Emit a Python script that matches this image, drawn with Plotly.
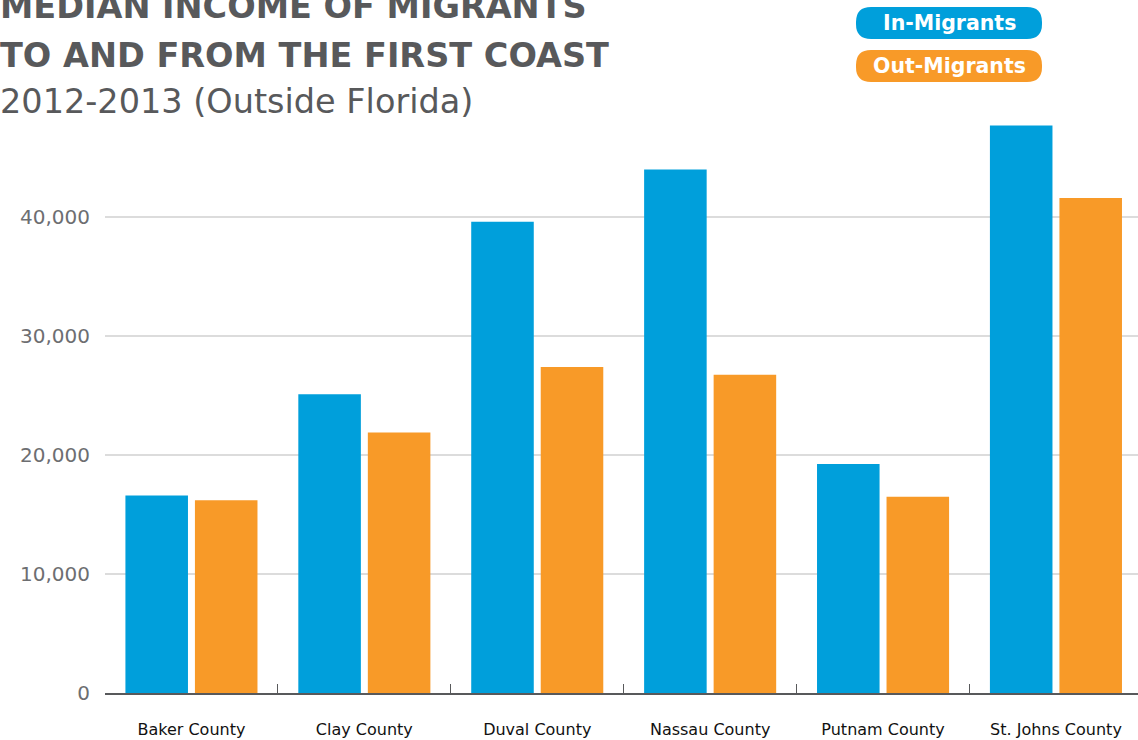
import plotly.graph_objects as go

# Median income of migrants, 2012-2013, moves to/from outside Florida
counties = ["Baker County", "Clay County", "Duval County",
            "Nassau County", "Putnam County", "St. Johns County"]
in_migrants = [16600, 25100, 39600, 44000, 19250, 47700]
out_migrants = [16200, 21900, 27400, 26750, 16500, 41600]
y_ticks = [0, 10000, 20000, 30000, 40000]
y_tick_labels = ["0", "10,000", "20,000", "30,000", "40,000"]

BLUE = "#009FDB"
ORANGE = "#F89A28"
TITLE_GREY = "#58595B"
TICK_GREY = "#6D6E71"

W, H = 1138, 740
ML, MR, MT, MB = 105, 0, 110, 47
PW, PH = W - ML - MR, H - MT - MB
CAT_W = 172.9  # pixel width of one category slot


def px_x(px):
    return (px - ML) / PW


def px_y(py):
    return (H - MB - py) / PH


def pill_path(x0, y0, x1, y1, r):
    # rounded rectangle in pixel space, converted to paper coordinates
    pts = [
        ("M", [(x0 + r, y0)]),
        ("L", [(x1 - r, y0)]),
        ("Q", [(x1, y0), (x1, y0 + r)]),
        ("L", [(x1, y1 - r)]),
        ("Q", [(x1, y1), (x1 - r, y1)]),
        ("L", [(x0 + r, y1)]),
        ("Q", [(x0, y1), (x0, y1 - r)]),
        ("L", [(x0, y0 + r)]),
        ("Q", [(x0, y0), (x0 + r, y0)]),
    ]
    out = []
    for cmd, coords in pts:
        out.append(cmd + " " + " ".join(f"{px_x(a):.5f},{px_y(b):.5f}" for a, b in coords))
    return " ".join(out) + " Z"


fig = go.Figure()
fig.add_trace(go.Bar(x=counties, y=in_migrants, name="In-Migrants",
                     marker=dict(color=BLUE, line=dict(width=0))))
fig.add_trace(go.Bar(x=counties, y=out_migrants, name="Out-Migrants",
                     marker=dict(color=ORANGE, line=dict(width=0))))

title_font = "DejaVu Sans"
annotations = [
    dict(text="<b>MEDIAN INCOME OF MIGRANTS</b>", x=px_x(-2), y=px_y(6),
         font=dict(size=33.5, color=TITLE_GREY, family=title_font)),
    dict(text="<b>TO AND FROM THE FIRST COAST</b>", x=px_x(-2), y=px_y(55),
         font=dict(size=33.5, color=TITLE_GREY, family=title_font)),
    dict(text="2012-2013 (Outside Florida)", x=px_x(-2), y=px_y(101),
         font=dict(size=33.5, color=TITLE_GREY, family=title_font)),
]
for a in annotations:
    a.update(xref="paper", yref="paper", xanchor="left", yanchor="middle",
             showarrow=False)

shapes = []
legend_items = [("In-Migrants", BLUE, 7, 39), ("Out-Migrants", ORANGE, 50, 82)]
for label, color, top, bottom in legend_items:
    shapes.append(dict(type="path", xref="paper", yref="paper",
                       path=pill_path(856, top, 1042, bottom, 15),
                       fillcolor=color, line=dict(width=0), layer="above"))
    annotations.append(dict(text=f"<b>{label}</b>", xref="paper", yref="paper",
                            x=px_x(949), y=px_y((top + bottom) / 2),
                            xanchor="center", yanchor="middle", showarrow=False,
                            font=dict(size=20.5, color="white", family=title_font)))

fig.update_layout(
    width=W, height=H,
    margin=dict(l=ML, r=MR, t=MT, b=MB, pad=0),
    paper_bgcolor="white", plot_bgcolor="white",
    barmode="group", bargap=0.196, bargroupgap=0.1,
    showlegend=False,
    annotations=annotations,
    shapes=shapes,
    xaxis=dict(
        range=[-0.5, -0.5 + PW / CAT_W], showgrid=False, zeroline=False,
        showline=True, linecolor="#58595B", linewidth=1.5,
        ticks="inside", tickson="boundaries", ticklen=9, tickwidth=1,
        tickcolor="#58595B", ticklabelstandoff=21,
        tickfont=dict(family="DejaVu Sans", size=16, color="#111111"),
    ),
    yaxis=dict(
        range=[0, 49000], tickvals=y_ticks, ticktext=y_tick_labels,
        showgrid=True, gridcolor="#DCDCDC", gridwidth=1.5,
        zeroline=False, showline=False, ticks="", ticklabelstandoff=14,
        tickfont=dict(family="DejaVu Sans", size=20, color=TICK_GREY),
    ),
)

fig.write_html("out.html")
